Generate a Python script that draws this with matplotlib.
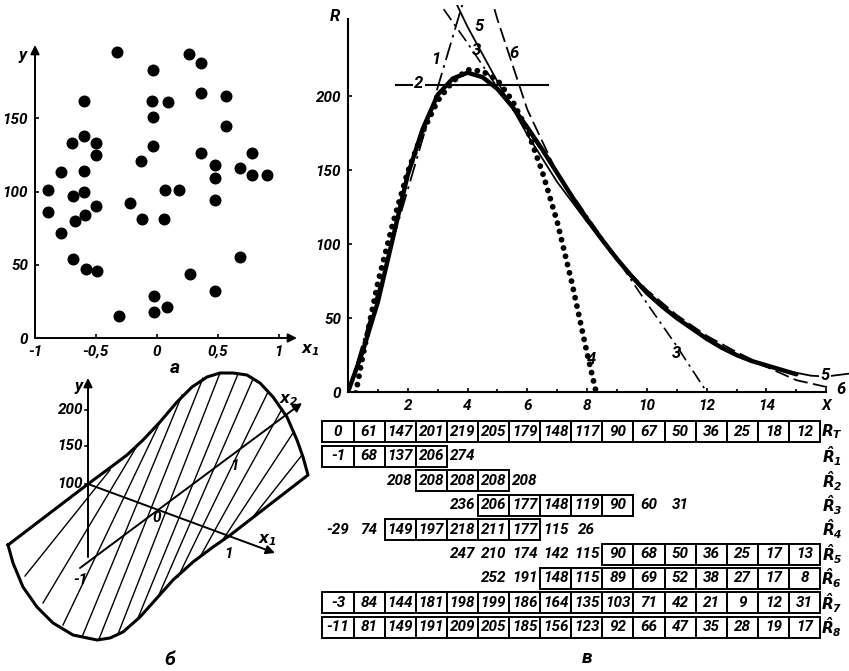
import numpy as np
import matplotlib.pyplot as plt
from matplotlib.patches import Rectangle

FONT = ['Roboto', 'DejaVu Sans']
plt.rcParams['font.family'] = FONT
plt.rcParams['font.style'] = 'italic'
plt.rcParams['font.weight'] = 'bold'

W, H = 849, 671

# --- а: облако точек (x1, y)
a_x1 = [-0.33, -0.03, 0.26, 0.36, -0.60, -0.04, 0.09, 0.36, 0.57, -0.03,
        0.57, -0.60, -0.70, -0.50, -0.03, -0.50, 0.36, 0.78, -0.79, -0.60,
        -0.13, 0.48, 0.68, 0.78, 0.90, 0.48, -0.89, -0.60, 0.07, 0.18,
        -0.69, -0.89, -0.50, -0.22, 0.48, -0.59, -0.67, -0.12, 0.06, -0.79,
        -0.69, 0.68, -0.58, -0.49, 0.27, 0.48, -0.02, 0.08, -0.02, -0.31]
a_y = [195, 183, 194, 188, 162, 162, 161, 167, 165, 151,
       145, 138, 133, 133, 131, 125, 126, 126, 113, 114,
       121, 118, 116, 111, 111, 109, 101, 100, 101, 101,
       97, 86, 90, 92, 94, 84, 80, 81, 81, 72,
       54, 55, 47, 46, 44, 32, 29, 21, 18, 15]

# --- б: контур поверхности и штриховка (координаты рисунка)
b_outline_x = [8, 88, 107, 127, 143, 160, 177, 192, 207, 220, 233, 247, 260, 273,
               287, 297, 303, 308, 229, 213, 193, 173, 157, 140, 123, 110, 97, 73,
               53, 37, 23, 13, 8]
b_outline_y = [545, 484, 470, 455, 440, 422, 402, 387, 377, 373, 373, 375, 383, 397,
               417, 440, 457, 475, 536, 547, 562, 580, 598, 617, 632, 638, 640, 635,
               623, 607, 587, 563, 545]
b_hatch_x0 = [25, 43, 63, 82, 99, 118, 138, 158, 178, 200, 222, 253]
b_hatch_y0 = [576, 603, 625, 637, 639, 634, 618, 597, 577, 557, 541, 517]
b_hatch_x1 = [110, 137, 160, 182, 203, 220, 238, 253, 268, 282, 293, 302]
b_hatch_y1 = [470, 446, 422, 395, 378, 373, 374, 379, 392, 409, 433, 455]

# --- в: таблица значений
cols = list(range(16))
R_T = [0, 61, 147, 201, 219, 205, 179, 148, 117, 90, 67, 50, 36, 25, 18, 12]
R1_hat = [-1, 68, 137, 206, 274]
R2_hat = [208, 208, 208, 208, 208]
R3_hat = [236, 206, 177, 148, 119, 90, 60, 31]
R4_hat = [-29, 74, 149, 197, 218, 211, 177, 115, 26]
R5_hat = [247, 210, 174, 142, 115, 90, 68, 50, 36, 25, 17, 13]
R6_hat = [252, 191, 148, 115, 89, 69, 52, 38, 27, 17, 8]
R7_hat = [-3, 84, 144, 181, 198, 199, 186, 164, 135, 103, 71, 42, 21, 9, 12, 31]
R8_hat = [-11, 81, 149, 191, 209, 205, 185, 156, 123, 92, 66, 47, 35, 28, 19, 17]

# --- в: кривые
x_T = [0, 0.5, 1, 1.5, 2, 2.5, 3, 3.5, 4, 4.5, 5, 5.5, 6, 6.5, 7, 7.5, 8, 8.5,
       9, 9.5, 10, 10.5, 11, 11.5, 12, 12.5, 13, 13.5, 14, 14.5, 15]
r_T = [0, 28, 61, 104, 147, 178, 201, 212, 216, 213, 205, 193, 179, 164, 148, 132,
       117, 103, 90, 78, 67, 58, 50, 43, 36, 30, 25, 21, 18, 15, 12]
x_4 = [0, 0.5, 1, 1.5, 2, 2.5, 3, 3.5, 4, 4.5, 5, 5.5, 6, 6.5, 7, 7.5, 8, 8.3]
r_4 = [-29, 25, 74, 114, 149, 176, 197, 210, 218, 217, 211, 197, 177, 149, 115, 73, 26, 0]
x_2 = [1.6, 6.7]
r_2 = [208, 208]
x_3 = [3.2] + list(range(4, 12)) + [12]
r_3 = [259] + R3_hat + [0]
x_5 = [3.5] + list(range(4, 16)) + [15.5, 16, 16.8]
r_5 = [268] + R5_hat + [11, 10.5, 12.5]
x_6 = [4.9] + list(range(5, 16)) + [16.2]
r_6 = [259] + R6_hat + [2.5]

fig = plt.figure(figsize=(W / 100, H / 100), dpi=100)


def axes_px(left, top, right, bottom):
    return fig.add_axes([left / W, 1 - bottom / H, (right - left) / W, (bottom - top) / H])


def arrow(ax, p0, p1, lw=1.4):
    ax.annotate('', xy=p1, xytext=p0, annotation_clip=False,
                arrowprops=dict(arrowstyle='-|>', color='k', lw=lw, mutation_scale=13,
                                shrinkA=0, shrinkB=0))


# ===== а =====
ax = axes_px(35, 45, 297, 338)
ax.set_xlim(-1, 1.15)
ax.set_ylim(0, 200)
for s in ax.spines.values():
    s.set_visible(False)
ax.scatter(a_x1, a_y, s=58, color='k', zorder=3, clip_on=False)
arrow(ax, (-1, 0), (1.15, 0))
arrow(ax, (-1, 0), (-1, 200))
ax.set_xticks([-1, -0.5, 0, 0.5, 1])
ax.set_xticklabels(['-1', '-0,5', '0', '0,5', '1'])
ax.set_yticks([0, 50, 100, 150])
ax.tick_params(direction='in', length=3, width=1.2, labelsize=11, pad=5)
ax.text(-1.1, 193, 'y', fontsize=12, ha='center', va='center')
ax.text(1.18, -8, r'$x_1$', fontsize=11, ha='left', va='center')
fig.text(175 / W, 1 - 368 / H, 'а', fontsize=14, ha='center', va='center')

# ===== б =====
bx = axes_px(0, 360, 320, 671)
bx.set_xlim(0, 320)
bx.set_ylim(671, 360)
bx.axis('off')
bx.plot(b_outline_x, b_outline_y, color='k', lw=2.2, solid_joinstyle='round')
for x0, y0, x1, y1 in zip(b_hatch_x0, b_hatch_y0, b_hatch_x1, b_hatch_y1):
    bx.plot([x0, x1], [y0, y1], color='k', lw=1.0)
arrow(bx, (88, 557), (88, 378), lw=1.4)
arrow(bx, (88, 484), (275, 553), lw=1.4)
arrow(bx, (80, 568), (302, 403), lw=1.4)
for yy, lab in zip([410, 446, 484], ['200', '150', '100']):
    bx.plot([85, 88], [yy, yy], color='k', lw=1.2)
    bx.text(83, yy, lab, fontsize=11, ha='right', va='center')
bx.text(79, 386, 'y', fontsize=12, ha='center', va='center')
bx.text(157, 518, '0', fontsize=11, ha='center', va='center')
bx.text(229, 554, '1', fontsize=11, ha='center', va='center')
bx.text(235, 466, '1', fontsize=11, ha='center', va='center')
bx.text(80, 580, '-1', fontsize=11, ha='center', va='center')
bx.text(267, 540, r'$x_1$', fontsize=11, ha='center', va='center')
bx.text(289, 400, r'$x_2$', fontsize=11, ha='center', va='center')
fig.text(170 / W, 1 - 660 / H, 'б', fontsize=14, ha='center', va='center')

# ===== в: график =====
cx = axes_px(348, 5, 849, 392)
cx.set_xlim(0, 16.76)
cx.set_ylim(0, 261.8)
cx.spines['top'].set_visible(False)
cx.spines['right'].set_visible(False)
cx.spines['left'].set_bounds(0, 252)
cx.spines['bottom'].set_bounds(0, 16)
for s in ['left', 'bottom']:
    cx.spines[s].set_linewidth(1.5)
cx.plot(x_T, r_T, color='k', lw=3.2, solid_capstyle='round')
cx.plot(cols[:5], R1_hat, color='k', lw=1.3, linestyle=(0, (10, 3, 1.5, 3)))
cx.plot(x_2, r_2, color='k', lw=1.5)
cx.plot(x_3, r_3, color='k', lw=1.2, linestyle=(0, (8, 3, 1.5, 3)))
cx.plot(x_4, r_4, color='k', lw=4.2, linestyle=(0, (0.01, 1.45)), dash_capstyle='round')
cx.plot(x_5, r_5, color='k', lw=1.3)
cx.plot(x_6, r_6, color='k', lw=1.3, linestyle=(0, (8, 3)))
lab_kw = dict(fontsize=12, ha='center', va='center')
cx.text(2.94, 225, '1', **lab_kw)
cx.text(2.37, 209, '2', bbox=dict(facecolor='white', edgecolor='none', pad=1), **lab_kw)
cx.text(4.31, 231, '3', **lab_kw)
cx.text(4.38, 247, '5', **lab_kw)
cx.text(5.55, 229, '6', **lab_kw)
cx.text(11.0, 26, '3', **lab_kw)
cx.text(8.16, 22, '4', **lab_kw)
cx.text(15.95, 11.5, '5', bbox=dict(facecolor='white', edgecolor='none', pad=1), **lab_kw)
cx.text(16.5, 2, '6', **lab_kw)
cx.set_yticks([0, 50, 100, 150, 200])
cx.set_xticks([2, 4, 6, 8, 10, 12, 14, 16])
cx.set_xticklabels(['2', '4', '6', '8', '10', '12', '14', 'X'])
cx.set_xticks(cols + [16], minor=True)
cx.tick_params(which='both', direction='in', length=3, width=1.2, labelsize=11, pad=5)
cx.tick_params(which='minor', length=2)
cx.text(-0.45, 254, 'R', fontsize=12, ha='center', va='center')

# ===== в: таблица =====
tx = axes_px(320, 420, 849, 640)
tx.set_xlim(-0.579, 16.43)
tx.set_ylim(8.52, -0.49)
tx.axis('off')
rows = [
    (r'$R_{\mathrm{T}}$', 0, R_T, 0, 15),
    (r'$\hat{R}_1$', 0, R1_hat, 0, 3),
    (r'$\hat{R}_2$', 2, R2_hat, 3, 5),
    (r'$\hat{R}_3$', 4, R3_hat, 5, 9),
    (r'$\hat{R}_4$', 0, R4_hat, 2, 6),
    (r'$\hat{R}_5$', 4, R5_hat, 9, 15),
    (r'$\hat{R}_6$', 5, R6_hat, 7, 15),
    (r'$\hat{R}_7$', 0, R7_hat, 0, 15),
    (r'$\hat{R}_8$', 0, R8_hat, 0, 15),
]
for r, (name, start, vals, b0, b1) in enumerate(rows):
    for k, v in enumerate(vals):
        c = start + k
        tx.text(c, r, str(v), fontsize=11, ha='center', va='center')
        if b0 <= c <= b1:
            tx.add_patch(Rectangle((c - 0.5, r - 0.43), 1, 0.86, fill=False,
                                   edgecolor='k', lw=1.4))
    tx.text(15.88, r, name, fontsize=11, ha='center', va='center')
fig.text(587 / W, 1 - 658 / H, 'в', fontsize=14, ha='center', va='center')

fig.savefig('out.png', dpi=100)
